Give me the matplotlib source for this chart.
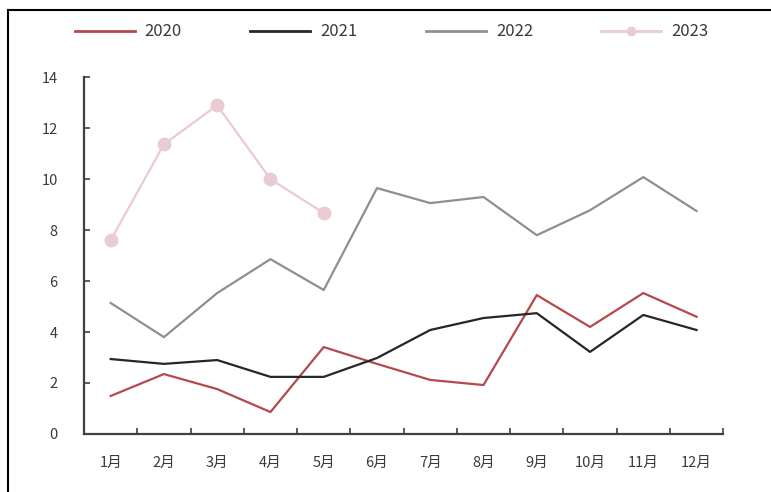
import numpy as np
import matplotlib.pyplot as plt
from matplotlib.lines import Line2D

plt.rcParams['font.family'] = ['Noto Sans CJK SC', 'DejaVu Sans']

# data
months = ['1月', '2月', '3月', '4月', '5月', '6月', '7月', '8月', '9月', '10月', '11月', '12月']
v2020 = [1.49, 2.35, 1.76, 0.86, 3.41, 2.75, 2.12, 1.92, 5.45, 4.2, 5.53, 4.6]
v2021 = [2.94, 2.75, 2.9, 2.24, 2.24, 2.98, 4.08, 4.55, 4.74, 3.22, 4.67, 4.08]
v2022 = [5.14, 3.8, 5.53, 6.86, 5.65, 9.65, 9.06, 9.3, 7.8, 8.78, 10.08, 8.75]
v2023 = [7.6, 11.37, 12.9, 10.0, 8.67]

c2020 = '#B5484C'
c2021 = '#262626'
c2022 = '#8F8F8F'
c2023 = '#EACBCF'
txt = '#3A3A3A'

fig = plt.figure(figsize=(7.71, 4.92), dpi=100)
ax = fig.add_axes([0.109, 0.118, 0.829, 0.725])

x = np.arange(len(months))
ax.plot(x, v2020, color=c2020, lw=1.6)
ax.plot(x, v2021, color=c2021, lw=1.6)
ax.plot(x, v2022, color=c2022, lw=1.6)
ax.plot(np.arange(len(v2023)), v2023, color=c2023, lw=1.6,
        marker='o', markersize=9, markerfacecolor=c2023, markeredgecolor=c2023)

ax.set_xlim(-0.5, len(months) - 0.5)
ax.set_ylim(0, 14)
ax.set_yticks(range(0, 15, 2))
ax.set_xticks(x)
ax.set_xticklabels(months)
ax.set_xticks(np.arange(-0.5, len(months)), minor=True)
ax.tick_params(axis='x', which='major', length=0, pad=16, labelsize=10.5, labelcolor=txt)
ax.tick_params(axis='x', which='minor', direction='in', length=4, width=1.2, color='#404040')
ax.tick_params(axis='y', direction='in', length=4, width=1.2, color='#404040',
               pad=19, labelsize=10.5, labelcolor=txt)
for s in ['top', 'right']:
    ax.spines[s].set_visible(False)
for s in ['left', 'bottom']:
    ax.spines[s].set_color('#404040')
    ax.spines[s].set_linewidth(1.6)

handles = [Line2D([], [], color=c2020, lw=2),
           Line2D([], [], color=c2021, lw=2),
           Line2D([], [], color=c2022, lw=2),
           Line2D([], [], color=c2023, lw=2, marker='o', markersize=6)]
fig.legend(handles, ['2020', '2021', '2022', '2023'], ncol=4, frameon=False,
           loc='center', bbox_to_anchor=(0.508, 0.935), handlelength=3.6,
           columnspacing=4.1, handletextpad=0.6, fontsize=12, labelcolor=txt)

# frame lines along the left and top edge
fig.add_artist(Line2D([0.011, 0.011], [0, 0.98], color='black', lw=1.5, transform=fig.transFigure))
fig.add_artist(Line2D([0.011, 1.0], [0.98, 0.98], color='black', lw=1.5, transform=fig.transFigure))

fig.savefig('out.png', dpi=100)
